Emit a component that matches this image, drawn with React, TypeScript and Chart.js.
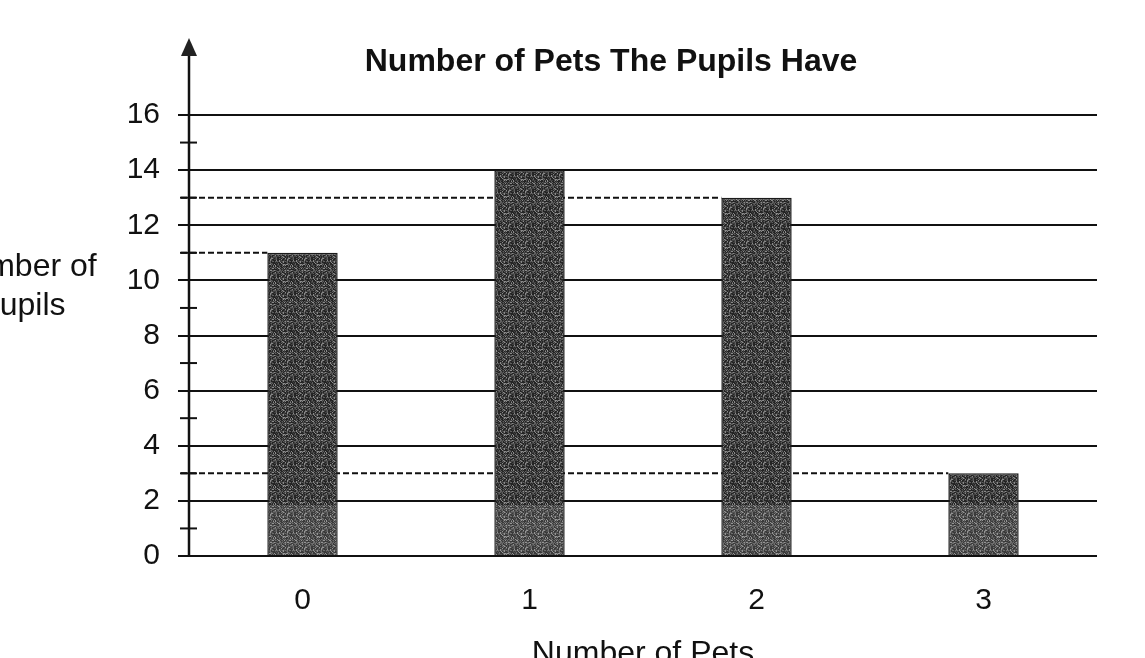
import React, { useEffect, useRef } from "react";
import { Chart, registerables } from "chart.js";

Chart.register(...registerables);

const categories = ["0", "1", "2", "3"];
const pupils = [11, 14, 13, 3];
const yMin = 0;
const yMax = 16;
const yStep = 2;
const minorTicks = [1, 3, 5, 7, 9, 11, 13, 15];
const chartTitle = "Number of Pets The Pupils Have";
const xTitle = "Number of Pets";
const yTitleLines = ["Number of", "Pupils"];

const FONT = "Arial, 'Liberation Sans', Helvetica, sans-serif";
const LIGHT_BAND_TOP = 1.85; // scan artefact: lighter band at the foot of each bar

function makeTexture(): CanvasPattern | string {
  const size = 17;
  const c = document.createElement("canvas");
  c.width = size;
  c.height = size;
  const g = c.getContext("2d");
  if (!g) return "#3e3e3e";
  for (let y = 0; y < size; y++) {
    for (let x = 0; x < size; x++) {
      const h = ((x * 73856093) ^ (y * 19349663) ^ (x * y * 83492791)) >>> 0;
      const k = h % 10;
      g.fillStyle = k < 4 ? "#242424" : k < 7 ? "#404040" : k < 9 ? "#5e5e5e" : "#8a8a8a";
      g.fillRect(x, y, 1, 1);
    }
  }
  const p = g.createPattern(c, "repeat");
  return p || "#3e3e3e";
}

const decorPlugin = {
  id: "decor",
  beforeDatasetsDraw(chart: any) {
    const { ctx, chartArea } = chart;
    const yScale = chart.scales.y;
    const meta = chart.getDatasetMeta(0);
    ctx.save();
    ctx.strokeStyle = "#111";
    ctx.lineWidth = 2;
    ctx.setLineDash([6, 3]);
    pupils.forEach((v, i) => {
      if (v % yStep === 0) return;
      const bar: any = meta.data[i];
      const py = yScale.getPixelForValue(v);
      ctx.beginPath();
      ctx.moveTo(chartArea.left - 8, py);
      ctx.lineTo(bar.x - bar.width / 2, py);
      ctx.stroke();
    });
    ctx.restore();
  },
  afterDatasetsDraw(chart: any) {
    const { ctx } = chart;
    const yScale = chart.scales.y;
    const meta = chart.getDatasetMeta(0);
    ctx.save();
    ctx.fillStyle = "rgba(255,255,255,0.10)";
    meta.data.forEach((bar: any, i: number) => {
      const top = yScale.getPixelForValue(Math.min(LIGHT_BAND_TOP, pupils[i]));
      const bottom = yScale.getPixelForValue(0);
      ctx.fillRect(bar.x - bar.width / 2 + 1, top, bar.width - 2, bottom - top - 1);
    });
    ctx.restore();
  },
  afterDraw(chart: any) {
    const { ctx, chartArea } = chart;
    const yScale = chart.scales.y;
    const ax = chartArea.left;
    ctx.save();
    // axis line with arrow
    ctx.strokeStyle = "#111";
    ctx.lineWidth = 2.5;
    ctx.beginPath();
    ctx.moveTo(ax, chartArea.bottom + 1);
    ctx.lineTo(ax, chartArea.top - 62);
    ctx.stroke();
    ctx.fillStyle = "#222";
    ctx.beginPath();
    ctx.moveTo(ax, chartArea.top - 77);
    ctx.lineTo(ax - 8, chartArea.top - 59);
    ctx.lineTo(ax + 8, chartArea.top - 59);
    ctx.closePath();
    ctx.fill();
    // minor ticks
    ctx.lineWidth = 2;
    minorTicks.forEach((v) => {
      const py = yScale.getPixelForValue(v);
      ctx.beginPath();
      ctx.moveTo(ax - 9, py);
      ctx.lineTo(ax + 8, py);
      ctx.stroke();
    });
    // y title (horizontal)
    ctx.fillStyle = "#111";
    ctx.font = `32px ${FONT}`;
    ctx.textAlign = "center";
    ctx.textBaseline = "middle";
    yTitleLines.forEach((line, i) => {
      ctx.fillText(line, ax - 167, chartArea.top + 152 + i * 39);
    });
    ctx.restore();
  },
};

export default function App() {
  const ref = useRef<HTMLCanvasElement | null>(null);

  useEffect(() => {
    document.body.style.margin = "0";
    const canvas = ref.current;
    if (!canvas) return;
    const texture = makeTexture();
    const chart = new Chart(canvas, {
      type: "bar",
      data: {
        labels: categories,
        datasets: [
          {
            data: pupils,
            backgroundColor: texture as any,
            borderColor: "#1a1a1a",
            borderWidth: 1.5,
            barPercentage: 0.31,
            categoryPercentage: 1,
          },
        ],
      },
      options: {
        responsive: false,
        animation: false,
        devicePixelRatio: 1,
        layout: { padding: { left: 125, right: 48, top: 0, bottom: 0 } },
        plugins: {
          legend: { display: false },
          tooltip: { enabled: false },
          title: {
            display: true,
            text: chartTitle,
            color: "#111",
            font: { family: FONT, size: 32, weight: "bold" },
            padding: { top: 43, bottom: 33.6 },
          },
        },
        scales: {
          x: {
            type: "category",
            grid: { display: false, drawTicks: false },
            border: { display: false },
            ticks: {
              color: "#111",
              font: { family: FONT, size: 30 },
              padding: 27,
            },
            title: {
              display: true,
              text: xTitle,
              color: "#111",
              font: { family: FONT, size: 32 },
              padding: { top: 0, bottom: -15 },
            },
            afterFit: (s: any) => {
              s.height = 102;
            },
          },
          y: {
            min: yMin,
            max: yMax,
            border: { display: false },
            grid: {
              color: "#111",
              lineWidth: 2,
              drawTicks: true,
              tickLength: 11,
              tickColor: "#111",
            },
            ticks: {
              stepSize: yStep,
              color: "#111",
              font: { family: FONT, size: 30 },
              padding: 18,
            },
            afterFit: (s: any) => {
              s.width = 64;
            },
          },
        },
      },
      plugins: [decorPlugin],
    });
    return () => chart.destroy();
  }, []);

  return (
    <div style={{ position: "absolute", left: 0, top: 0, width: 1145, height: 658, background: "#fff" }}>
      <canvas ref={ref} width={1145} height={658} style={{ display: "block", width: 1145, height: 658 }} />
    </div>
  );
}
